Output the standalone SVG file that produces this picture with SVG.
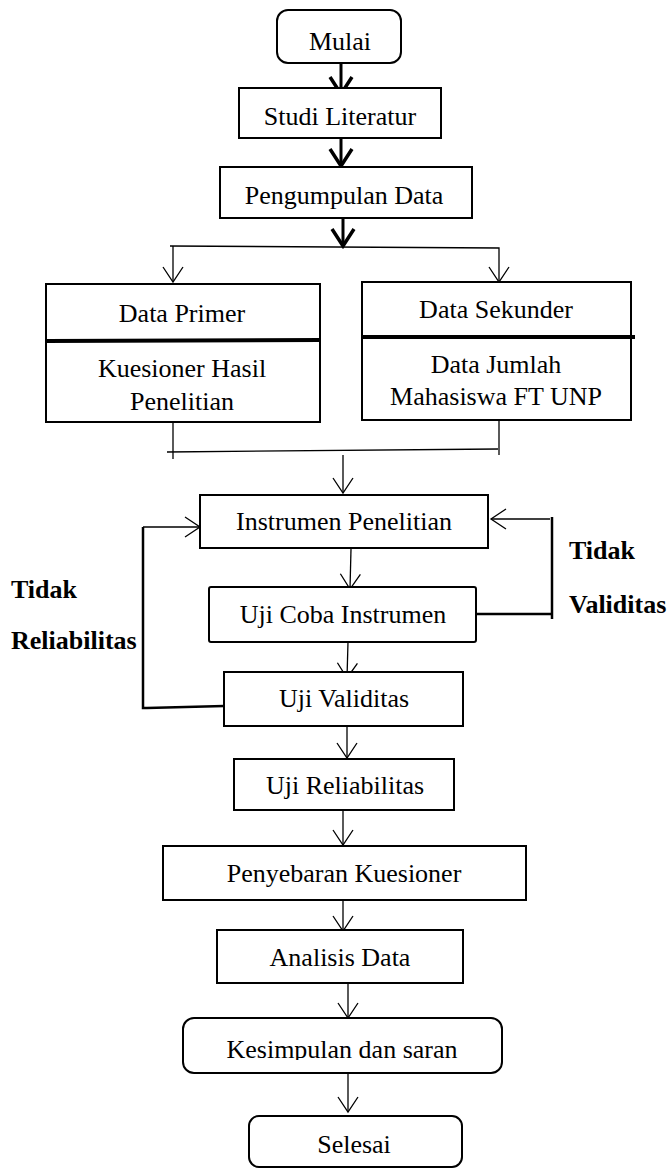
<svg xmlns="http://www.w3.org/2000/svg" width="669" height="1170" viewBox="0 0 669 1170">
<style>
.box{fill:#fff;stroke:#000;stroke-width:2}
.t{font-family:"Liberation Serif","Times New Roman",serif;font-size:26px;fill:#000;text-anchor:middle}
.b{font-family:"Liberation Serif","Times New Roman",serif;font-size:26px;font-weight:bold;fill:#000}
.thin{fill:none;stroke:#000;stroke-width:1.3}
.thick{fill:none;stroke:#000;stroke-width:3}
.fb{fill:none;stroke:#000;stroke-width:2.5}
.div{stroke:#000;stroke-width:4}
</style>
<defs>
<marker id="open" markerUnits="userSpaceOnUse" markerWidth="18" markerHeight="22" viewBox="0 0 18 22" refX="16" refY="11" orient="auto">
<path d="M1,1 L16,11 L1,21" fill="none" stroke="#000" stroke-width="1.3"/>
</marker>
<marker id="bold" markerUnits="userSpaceOnUse" markerWidth="22" markerHeight="26" viewBox="0 0 22 26" refX="19" refY="13" orient="auto">
<path d="M2,2 L19,13 L2,24" fill="none" stroke="#000" stroke-width="3.5"/>
</marker>
<clipPath id="kclip"><rect x="183" y="1018" width="320" height="42"/></clipPath>
</defs>

<g id="connectors">
<line class="thick" x1="341" y1="63" x2="341" y2="94" marker-end="url(#bold)"/>
<line class="thick" x1="341" y1="138" x2="341" y2="166" marker-end="url(#bold)"/>
<line class="thick" x1="343" y1="218" x2="343" y2="246" marker-end="url(#bold)"/>
<polyline class="thin" points="170,246 499,248 499,282" marker-end="url(#open)"/>
<line class="thin" x1="173" y1="246" x2="173" y2="282" marker-end="url(#open)"/>
<line class="thin" x1="173" y1="423" x2="173" y2="459"/>
<line class="thin" x1="499" y1="420" x2="499" y2="455"/>
<line class="thin" x1="167" y1="452" x2="498" y2="449"/>
<line class="thin" x1="343" y1="455" x2="343" y2="493" marker-end="url(#open)"/>
<line class="thin" x1="351" y1="549" x2="350" y2="589" marker-end="url(#open)"/>
<line class="thin" x1="348" y1="642" x2="347" y2="678" marker-end="url(#open)"/>
<polyline class="fb" points="224,706 147,708 143,708 143,527"/>
<line class="thin" x1="143" y1="527" x2="200" y2="527" marker-end="url(#open)"/>
<polyline class="fb" points="476,614 552,614"/>
<line class="fb" x1="552" y1="517" x2="552" y2="619"/>
<line class="thin" x1="550" y1="519" x2="491" y2="519" marker-end="url(#open)"/>
<line class="thin" x1="347" y1="726" x2="347" y2="758" marker-end="url(#open)"/>
<line class="thin" x1="343" y1="810" x2="343" y2="845" marker-end="url(#open)"/>
<line class="thin" x1="343" y1="900" x2="343" y2="931" marker-end="url(#open)"/>
<line class="thin" x1="348" y1="983" x2="348" y2="1018" marker-end="url(#open)"/>
<line class="thin" x1="348" y1="1073" x2="348" y2="1112" marker-end="url(#open)"/>
</g>

<g id="mulai">
<rect class="box" x="277" y="10" width="124" height="53" rx="11"/>
<text class="t" x="340" y="50">Mulai</text>
</g>
<g id="studi-literatur">
<rect class="box" x="239" y="88" width="202" height="50"/>
<text class="t" x="340" y="125">Studi Literatur</text>
</g>
<g id="pengumpulan-data">
<rect class="box" x="220" y="167" width="252" height="51"/>
<text class="t" x="344" y="204">Pengumpulan Data</text>
</g>
<g id="data-primer">
<rect class="box" x="46" y="284" width="274" height="138"/>
<line class="div" x1="46" y1="341" x2="320" y2="340"/>
<text class="t" x="182" y="322">Data Primer</text>
<text class="t" x="182" y="377">Kuesioner Hasil</text>
<text class="t" x="182" y="410">Penelitian</text>
</g>
<g id="data-sekunder">
<rect class="box" x="362" y="282" width="269" height="138"/>
<line class="div" x1="361" y1="337" x2="635" y2="337"/>
<text class="t" x="496" y="318">Data Sekunder</text>
<text class="t" x="496" y="373">Data Jumlah</text>
<text class="t" x="496" y="405">Mahasiswa FT UNP</text>
</g>
<g id="instrumen-penelitian">
<rect class="box" x="200" y="495" width="288" height="53"/>
<text class="t" x="344" y="530">Instrumen Penelitian</text>
</g>
<g id="uji-coba-instrumen">
<rect class="box" x="209" y="587" width="267" height="55" rx="2"/>
<text class="t" x="343" y="623">Uji Coba Instrumen</text>
</g>
<g id="uji-validitas">
<rect class="box" x="224" y="672" width="239" height="54"/>
<text class="t" x="344" y="707">Uji Validitas</text>
</g>
<g id="uji-reliabilitas">
<rect class="box" x="234" y="759" width="220" height="51"/>
<text class="t" x="345" y="794">Uji Reliabilitas</text>
</g>
<g id="penyebaran-kuesioner">
<rect class="box" x="163" y="846" width="363" height="54"/>
<text class="t" x="344" y="882">Penyebaran Kuesioner</text>
</g>
<g id="analisis-data">
<rect class="box" x="217" y="930" width="246" height="53"/>
<text class="t" x="340" y="966">Analisis Data</text>
</g>
<g id="kesimpulan">
<rect class="box" x="183" y="1018" width="319" height="55" rx="11"/>
<text class="t" x="342" y="1058" clip-path="url(#kclip)">Kesimpulan dan saran</text>
</g>
<g id="selesai">
<rect class="box" x="249" y="1116" width="213" height="51" rx="10"/>
<text class="t" x="354" y="1153">Selesai</text>
</g>
<g id="labels">
<text class="b" x="11" y="598">Tidak</text>
<text class="b" x="11" y="649">Reliabilitas</text>
<text class="b" x="569" y="559">Tidak</text>
<text class="b" x="569" y="613">Validitas</text>
</g>
</svg>
